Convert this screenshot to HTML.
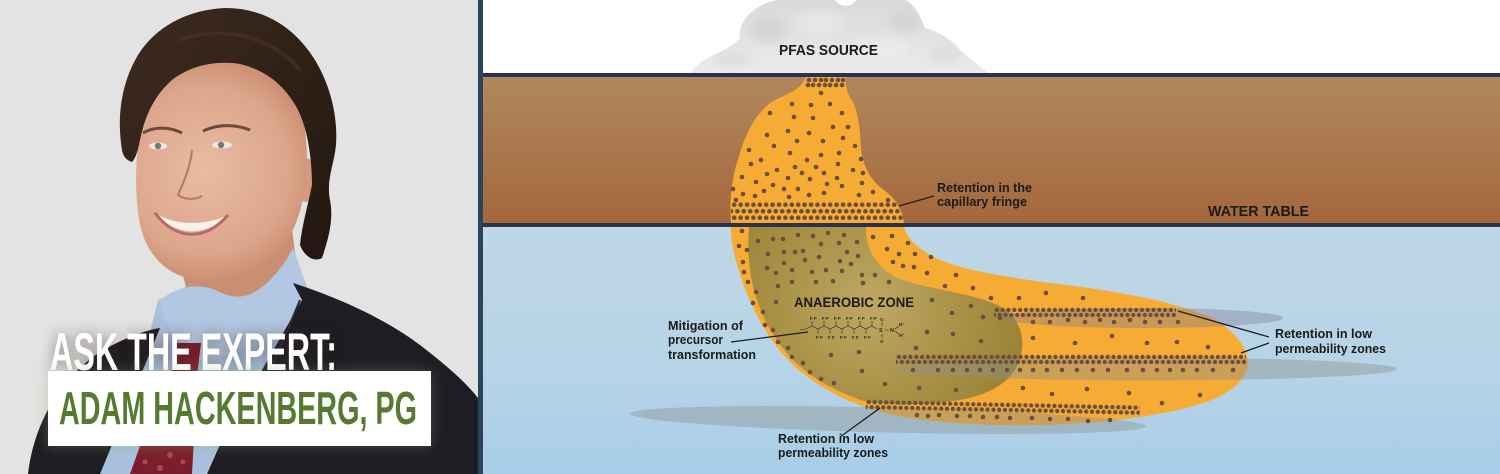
<!DOCTYPE html>
<html>
<head>
<meta charset="utf-8">
<style>
html,body{margin:0;padding:0;background:#e2e2e2;}
body{width:1500px;height:474px;overflow:hidden;}
svg{display:block;}
text{font-family:"Liberation Sans",Arial,sans-serif;font-weight:bold;}
</style>
</head>
<body>
<svg width="1500" height="474" viewBox="0 0 1500 474" xmlns="http://www.w3.org/2000/svg">
<defs>
  <linearGradient id="brown" x1="0" y1="77" x2="0" y2="223" gradientUnits="userSpaceOnUse">
    <stop offset="0" stop-color="#b0875e"/>
    <stop offset="1" stop-color="#a4683b"/>
  </linearGradient>
  <linearGradient id="water" x1="0" y1="227" x2="0" y2="474" gradientUnits="userSpaceOnUse">
    <stop offset="0" stop-color="#bfd7e6"/>
    <stop offset="0.6" stop-color="#b6d3e7"/>
    <stop offset="1" stop-color="#a8cde8"/>
  </linearGradient>
  <radialGradient id="olive" cx="870" cy="305" r="160" gradientUnits="userSpaceOnUse">
    <stop offset="0" stop-color="#bea864"/>
    <stop offset="0.6" stop-color="#a89044"/>
    <stop offset="1" stop-color="#9a8236"/>
  </radialGradient>
  <linearGradient id="blob" x1="0" y1="0" x2="0" y2="73" gradientUnits="userSpaceOnUse">
    <stop offset="0" stop-color="#d9d9d9"/>
    <stop offset="0.5" stop-color="#e2e2e2"/>
    <stop offset="1" stop-color="#ebebeb"/>
  </linearGradient>
  <radialGradient id="skin" cx="205" cy="170" r="120" gradientUnits="userSpaceOnUse">
    <stop offset="0" stop-color="#e9bba3"/>
    <stop offset="0.7" stop-color="#dca58b"/>
    <stop offset="1" stop-color="#c58a6e"/>
  </radialGradient>
  <linearGradient id="hair" x1="0" y1="0" x2="1" y2="1">
    <stop offset="0" stop-color="#3e2b1f"/>
    <stop offset="1" stop-color="#22170f"/>
  </linearGradient>
  <pattern id="pc" patternUnits="userSpaceOnUse" width="6.4" height="13" patternTransform="translate(731,201.5)">
    <circle cx="3.2" cy="3.2" r="2.3" fill="#6a4f3f"/>
    <circle cx="0" cy="9.7" r="2.3" fill="#6a4f3f"/>
    <circle cx="6.4" cy="9.7" r="2.3" fill="#6a4f3f"/>
  </pattern>
  <pattern id="p2" patternUnits="userSpaceOnUse" width="5.8" height="10">
    <circle cx="2.9" cy="2.5" r="2.2" fill="#6a4f3f"/>
    <circle cx="0" cy="7.5" r="2.2" fill="#6a4f3f"/>
    <circle cx="5.8" cy="7.5" r="2.2" fill="#6a4f3f"/>
  </pattern>
  <clipPath id="clipA">
    <path d="M806,77 L846,77 C845,86 847,94 853,102 C859,114 860,132 861,148 C863,166 870,180 884,190 C896,199 902,210 904,223 L731,223 C729,200 732,176 739,156 C746,132 756,114 770,103 C784,94 800,92 806,77 Z"/>
  </clipPath>
  <clipPath id="clipBlob">
    <path d="M690,73 C695,66 705,58 720,52 C728,48 735,44 740,38 C738,28 745,15 757,8 C765,3 772,1 778,0 L835,0 C838,5 845,8 853,4 L856,0 L905,0 C915,5 920,15 925,28 C940,32 952,40 960,50 C970,58 980,66 988,73 Z"/>
  </clipPath>
  <filter id="shadow" x="-20%" y="-40%" width="140%" height="180%">
    <feGaussianBlur stdDeviation="7"/>
  </filter>
  <filter id="soft" x="-20%" y="-20%" width="140%" height="140%">
    <feGaussianBlur stdDeviation="4"/>
  </filter>
</defs>

<!-- ================= LEFT PHOTO PANEL ================= -->
<rect x="0" y="0" width="478" height="474" fill="#e3e3e3"/>

<!-- shirt -->
<path d="M158,300 L195,282 L293,250 L312,300 L232,474 L98,474 L138,380 Z" fill="#a9c1dd"/>
<!-- neck -->
<path d="M178,255 C200,272 245,268 292,228 L300,292 L190,304 Z" fill="#c98f74"/>
<!-- collar -->
<path d="M160,300 C175,288 195,282 215,290 C235,300 250,300 270,280 C282,268 290,255 293,248 C300,265 306,285 310,300 L296,330 C270,345 230,355 200,360 C180,350 166,330 160,300 Z" fill="#b2c8e2"/>
<!-- tie -->
<path d="M176,343 L201,343 L198,368 L192,474 L130,474 L160,390 L173,368 Z" fill="#7b1e2c"/>
<g fill="#c0586a" opacity="0.7">
  <circle cx="150" cy="440" r="3"/><circle cx="170" cy="455" r="3"/><circle cx="160" cy="468" r="3"/><circle cx="178" cy="430" r="3"/><circle cx="145" cy="462" r="2.5"/><circle cx="183" cy="462" r="2.5"/>
</g>
<!-- suit left -->
<path d="M28,474 C33,430 55,382 100,352 C125,337 148,330 160,328 L138,382 L100,474 Z" fill="#1e1d23"/>
<!-- suit right -->
<path d="M293,283 C330,295 380,315 420,345 C450,368 468,385 478,398 L478,474 L207,474 L222,440 L302,300 Z" fill="#1e1d23"/>
<path d="M300,300 L250,420" stroke="#2c2b33" stroke-width="2" fill="none"/>

<!-- ear -->
<ellipse cx="306" cy="180" rx="11" ry="22" fill="#d49a80"/>
<!-- face -->
<path d="M140,130 C145,90 180,62 230,60 C275,60 300,90 305,130 C310,170 305,205 292,232 C275,262 240,282 200,280 C170,278 150,258 142,232 C134,205 135,160 140,130 Z" fill="url(#skin)"/>
<!-- features -->
<path d="M143,133 C155,126 170,127 182,133" stroke="#6b4a3a" stroke-width="3" fill="none"/>
<path d="M203,131 C218,124 235,124 250,130" stroke="#6b4a3a" stroke-width="3" fill="none"/>
<ellipse cx="158" cy="146" rx="9" ry="3.5" fill="#f2e6e0"/>
<ellipse cx="222" cy="145" rx="10" ry="3.5" fill="#f2e6e0"/>
<circle cx="158" cy="146" r="3.2" fill="#6f7d6e"/>
<circle cx="221" cy="145" r="3.2" fill="#6f7d6e"/>
<path d="M192,150 C190,170 182,185 178,195 C185,200 195,200 202,196" stroke="#b57a62" stroke-width="2" fill="none"/>
<path d="M155,213 C175,236 205,238 228,215 C205,226 175,226 155,213 Z" fill="#f6f1ea"/>
<path d="M155,213 C175,240 205,242 228,215" stroke="#b86a62" stroke-width="3" fill="none"/>
<!-- hair -->
<path d="M122,150 C117,120 120,85 138,55 C155,28 185,10 225,8 C265,8 295,28 315,60 C330,85 338,115 336,145 C334,165 326,180 330,200 C334,220 328,240 322,258 C315,262 305,258 300,245 C302,225 308,205 312,185 C312,160 308,130 298,110 C285,85 265,70 240,64 C215,60 190,66 172,80 C155,95 145,115 140,140 C138,150 136,158 132,162 C126,160 123,156 122,150 Z" fill="url(#hair)"/>
<path d="M180,40 C220,25 270,35 300,70" stroke="#4d3526" stroke-width="4" fill="none" opacity="0.6"/>

<!-- Ask the expert text -->
<text x="50" y="370" font-size="53" fill="#3a2420" opacity="0.55" filter="url(#shadow)" textLength="287" lengthAdjust="spacingAndGlyphs">ASK THE EXPERT:</text>
<text x="50" y="370" font-size="53" fill="#ffffff" textLength="287" lengthAdjust="spacingAndGlyphs">ASK THE EXPERT:</text>
<rect x="48" y="371" width="383" height="75" fill="#7fae6a" opacity="0.35" filter="url(#shadow)"/>
<rect x="48" y="371" width="383" height="75" fill="#ffffff"/>
<text x="59" y="424" font-size="46" fill="#567a30" textLength="358" lengthAdjust="spacingAndGlyphs">ADAM HACKENBERG, PG</text>

<!-- separator -->
<rect x="478" y="0" width="5" height="474" fill="#2e4358"/>

<!-- ================= DIAGRAM ================= -->
<rect x="483" y="0" width="1017" height="73" fill="#ffffff"/>
<!-- PFAS source blob -->
<path d="M690,73 C695,66 705,58 720,52 C728,48 735,44 740,38 C738,28 745,15 757,8 C765,3 772,1 778,0 L835,0 C838,5 845,8 853,4 L856,0 L905,0 C915,5 920,15 925,28 C940,32 952,40 960,50 C970,58 980,66 988,73 Z" fill="url(#blob)"/>
<g clip-path="url(#clipBlob)">
  <g filter="url(#soft)" opacity="0.6">
    <ellipse cx="768" cy="30" rx="18" ry="12" fill="#cdcdcd"/>
    <ellipse cx="905" cy="22" rx="16" ry="12" fill="#d0d0d0"/>
    <ellipse cx="820" cy="22" rx="25" ry="12" fill="#ebebeb"/>
    <ellipse cx="880" cy="48" rx="30" ry="12" fill="#eeeeee"/>
    <ellipse cx="945" cy="55" rx="14" ry="8" fill="#d6d6d6"/>
    <ellipse cx="732" cy="60" rx="18" ry="7" fill="#d8d8d8"/>
  </g>
</g>
<text x="779" y="55" font-size="15" fill="#1b1b1b" textLength="99" lengthAdjust="spacingAndGlyphs">PFAS SOURCE</text>

<!-- soil -->
<rect x="483" y="73" width="1017" height="4" fill="#2c3152"/>
<rect x="483" y="77" width="1017" height="146" fill="url(#brown)"/>
<!-- water -->
<rect x="483" y="227" width="1017" height="247" fill="url(#water)"/>

<!-- plume above water table -->
<path d="M806,77 L846,77 C845,86 847,94 853,102 C859,114 860,132 861,148 C863,166 870,180 884,190 C896,199 902,210 904,223 L731,223 C729,200 732,176 739,156 C746,132 756,114 770,103 C784,94 800,92 806,77 Z" fill="#f6ab35"/>
<!-- plume below -->
<path d="M731,227 L904,227 C907,238 918,250 940,260 C965,270 1000,276 1050,283 C1110,290 1170,300 1210,317 C1235,330 1248,348 1248,363 C1247,380 1230,395 1200,404 C1160,416 1110,423 1040,425 C980,426 920,422 880,412 C845,402 815,385 792,364 C768,340 752,310 742,280 C735,260 731,245 731,227 Z" fill="#f6ab35"/>
<!-- anaerobic zone -->
<path d="M749,227 L866,227 C866,248 874,265 895,277 C925,290 975,292 1003,308 C1025,322 1027,350 1015,370 C1002,390 975,399 945,402 C915,405 890,405 867,402 C835,392 805,375 786,352 C766,328 754,300 750,270 C748,255 748,240 749,227 Z" fill="url(#olive)"/>

<!-- low permeability zones -->
<ellipse cx="1143" cy="318" rx="140" ry="10" fill="#7d7890" opacity="0.38"/>
<ellipse cx="1147" cy="369" rx="250" ry="11.5" fill="#8c918c" opacity="0.42"/>
<ellipse cx="888" cy="420" rx="258" ry="12.5" fill="#8c918c" opacity="0.42" transform="rotate(1.4 888 420)"/>

<!-- water table line -->
<rect x="483" y="223" width="1017" height="4" fill="#2c3152"/>

<!-- dense dot bands -->
<rect x="731" y="201.5" width="175" height="19.5" fill="url(#pc)" clip-path="url(#clipA)"/>
<g transform="translate(994,307.5)"><rect x="0" y="0" width="182" height="10" fill="url(#p2)"/></g>
<g transform="translate(896,354.5)"><rect x="0" y="0" width="350" height="10" fill="url(#p2)"/></g>
<g transform="translate(866,399.5) rotate(1.2)"><rect x="0" y="0" width="274" height="10" fill="url(#p2)"/></g>

<!-- scattered dots -->
<g fill="#6a4f3f">
<!-- neck -->
<circle cx="809" cy="80" r="2.3"/><circle cx="815" cy="80" r="2.3"/><circle cx="821" cy="80" r="2.3"/><circle cx="826" cy="80" r="2.3"/><circle cx="832" cy="80" r="2.3"/><circle cx="838" cy="80" r="2.3"/><circle cx="843" cy="80" r="2.3"/>
<circle cx="808" cy="85" r="2.3"/><circle cx="813" cy="85" r="2.3"/><circle cx="819" cy="85" r="2.3"/><circle cx="825" cy="85" r="2.3"/><circle cx="830" cy="85" r="2.3"/><circle cx="836" cy="85" r="2.3"/><circle cx="842" cy="85" r="2.3"/>
<circle cx="821" cy="93" r="2.3"/>
<!-- unsaturated -->
<circle cx="792" cy="104" r="2.3"/><circle cx="811" cy="105" r="2.3"/><circle cx="830" cy="104" r="2.3"/><circle cx="770" cy="113" r="2.3"/><circle cx="794" cy="117" r="2.3"/><circle cx="813" cy="118" r="2.3"/><circle cx="842" cy="113" r="2.3"/>
<circle cx="767" cy="135" r="2.3"/><circle cx="788" cy="131" r="2.3"/><circle cx="809" cy="133" r="2.3"/><circle cx="833" cy="127" r="2.3"/><circle cx="848" cy="127" r="2.3"/><circle cx="843" cy="138" r="2.3"/><circle cx="797" cy="141" r="2.3"/><circle cx="823" cy="141" r="2.3"/>
<circle cx="774" cy="146" r="2.3"/><circle cx="749" cy="150" r="2.3"/><circle cx="790" cy="153" r="2.3"/><circle cx="821" cy="155" r="2.3"/><circle cx="839" cy="153" r="2.3"/><circle cx="855" cy="146" r="2.3"/>
<circle cx="761" cy="160" r="2.3"/><circle cx="807" cy="160" r="2.3"/><circle cx="751" cy="164" r="2.3"/><circle cx="838" cy="164" r="2.3"/><circle cx="861" cy="159" r="2.3"/><circle cx="795" cy="167" r="2.3"/><circle cx="816" cy="167" r="2.3"/>
<circle cx="777" cy="170" r="2.3"/><circle cx="767" cy="174" r="2.3"/><circle cx="802" cy="173" r="2.3"/><circle cx="824" cy="173" r="2.3"/><circle cx="853" cy="170" r="2.3"/><circle cx="863" cy="173" r="2.3"/>
<circle cx="742" cy="177" r="2.3"/><circle cx="788" cy="178" r="2.3"/><circle cx="810" cy="179" r="2.3"/><circle cx="837" cy="178" r="2.3"/><circle cx="756" cy="182" r="2.3"/><circle cx="773" cy="185" r="2.3"/><circle cx="827" cy="184" r="2.3"/><circle cx="862" cy="183" r="2.3"/><circle cx="842" cy="186" r="2.3"/>
<circle cx="733" cy="189" r="2.3"/><circle cx="764" cy="191" r="2.3"/><circle cx="784" cy="189" r="2.3"/><circle cx="798" cy="189" r="2.3"/><circle cx="743" cy="194" r="2.3"/><circle cx="755" cy="196" r="2.3"/><circle cx="789" cy="197" r="2.3"/><circle cx="809" cy="195" r="2.3"/><circle cx="824" cy="193" r="2.3"/><circle cx="859" cy="195" r="2.3"/><circle cx="873" cy="192" r="2.3"/><circle cx="736" cy="200" r="2.3"/><circle cx="888" cy="200" r="2.3"/>
<!-- left band below water table -->
<circle cx="742" cy="231" r="2.3"/><circle cx="739" cy="246" r="2.3"/><circle cx="747" cy="250" r="2.3"/><circle cx="743" cy="262" r="2.3"/><circle cx="744" cy="272" r="2.3"/><circle cx="748" cy="282" r="2.3"/><circle cx="756" cy="292" r="2.3"/><circle cx="753" cy="303" r="2.3"/><circle cx="763" cy="312" r="2.3"/><circle cx="765" cy="325" r="2.3"/><circle cx="773" cy="330" r="2.3"/><circle cx="778" cy="342" r="2.3"/><circle cx="788" cy="348" r="2.3"/><circle cx="792" cy="357" r="2.3"/><circle cx="803" cy="363" r="2.3"/><circle cx="810" cy="372" r="2.3"/><circle cx="821" cy="379" r="2.3"/><circle cx="834" cy="383" r="2.3"/>
<!-- anaerobic zone -->
<circle cx="758" cy="241" r="2.3"/><circle cx="773" cy="239" r="2.3"/><circle cx="783" cy="239" r="2.3"/><circle cx="798" cy="235" r="2.3"/><circle cx="813" cy="236" r="2.3"/><circle cx="828" cy="233" r="2.3"/><circle cx="844" cy="235" r="2.3"/><circle cx="857" cy="242" r="2.3"/><circle cx="821" cy="244" r="2.3"/><circle cx="839" cy="243" r="2.3"/>
<circle cx="768" cy="254" r="2.3"/><circle cx="784" cy="252" r="2.3"/><circle cx="795" cy="252" r="2.3"/><circle cx="803" cy="251" r="2.3"/><circle cx="847" cy="252" r="2.3"/><circle cx="858" cy="256" r="2.3"/><circle cx="784" cy="263" r="2.3"/><circle cx="767" cy="268" r="2.3"/><circle cx="805" cy="260" r="2.3"/><circle cx="819" cy="257" r="2.3"/><circle cx="840" cy="261" r="2.3"/><circle cx="851" cy="264" r="2.3"/>
<circle cx="776" cy="273" r="2.3"/><circle cx="792" cy="270" r="2.3"/><circle cx="812" cy="272" r="2.3"/><circle cx="826" cy="270" r="2.3"/><circle cx="842" cy="271" r="2.3"/><circle cx="862" cy="275" r="2.3"/><circle cx="875" cy="275" r="2.3"/><circle cx="792" cy="282" r="2.3"/><circle cx="816" cy="282" r="2.3"/><circle cx="833" cy="281" r="2.3"/><circle cx="863" cy="283" r="2.3"/><circle cx="889" cy="282" r="2.3"/><circle cx="778" cy="286" r="2.3"/><circle cx="776" cy="302" r="2.3"/>
<circle cx="932" cy="300" r="2.3"/><circle cx="971" cy="306" r="2.3"/><circle cx="952" cy="313" r="2.3"/><circle cx="983" cy="317" r="2.3"/><circle cx="927" cy="332" r="2.3"/><circle cx="953" cy="334" r="2.3"/><circle cx="981" cy="341" r="2.3"/><circle cx="916" cy="348" r="2.3"/><circle cx="831" cy="355" r="2.3"/><circle cx="859" cy="352" r="2.3"/><circle cx="862" cy="371" r="2.3"/><circle cx="885" cy="384" r="2.3"/><circle cx="919" cy="388" r="2.3"/><circle cx="956" cy="390" r="2.3"/><circle cx="1000" cy="318" r="2.3"/>
<!-- right wing upper -->
<circle cx="873" cy="237" r="2.3"/><circle cx="892" cy="236" r="2.3"/><circle cx="887" cy="249" r="2.3"/><circle cx="899" cy="254" r="2.3"/><circle cx="908" cy="243" r="2.3"/><circle cx="915" cy="254" r="2.3"/><circle cx="893" cy="262" r="2.3"/><circle cx="903" cy="266" r="2.3"/><circle cx="914" cy="267" r="2.3"/><circle cx="927" cy="273" r="2.3"/><circle cx="931" cy="257" r="2.3"/><circle cx="956" cy="275" r="2.3"/><circle cx="945" cy="286" r="2.3"/><circle cx="973" cy="288" r="2.3"/><circle cx="991" cy="298" r="2.3"/><circle cx="1019" cy="298" r="2.3"/><circle cx="1046" cy="293" r="2.3"/><circle cx="1083" cy="298" r="2.3"/>
<!-- row1 sparse -->
<circle cx="1033" cy="322" r="2.3"/><circle cx="1050" cy="322" r="2.3"/><circle cx="1068" cy="320" r="2.3"/><circle cx="1085" cy="322" r="2.3"/><circle cx="1100" cy="320" r="2.3"/><circle cx="1114" cy="322" r="2.3"/><circle cx="1130" cy="320" r="2.3"/><circle cx="1145" cy="322" r="2.3"/><circle cx="1160" cy="322" r="2.3"/><circle cx="1178" cy="322" r="2.3"/>
<!-- middle wing -->
<circle cx="1033" cy="338" r="2.3"/><circle cx="1075" cy="343" r="2.3"/><circle cx="1112" cy="336" r="2.3"/><circle cx="1147" cy="343" r="2.3"/><circle cx="1177" cy="342" r="2.3"/><circle cx="1208" cy="347" r="2.3"/>
<!-- row2 sparse -->
<circle cx="913" cy="370" r="2.3"/><circle cx="938" cy="370" r="2.3"/><circle cx="953" cy="370" r="2.3"/><circle cx="967" cy="370" r="2.3"/><circle cx="980" cy="370" r="2.3"/><circle cx="993" cy="370" r="2.3"/><circle cx="1007" cy="370" r="2.3"/><circle cx="1020" cy="370" r="2.3"/><circle cx="1033" cy="370" r="2.3"/><circle cx="1047" cy="370" r="2.3"/><circle cx="1062" cy="370" r="2.3"/><circle cx="1077" cy="370" r="2.3"/><circle cx="1093" cy="370" r="2.3"/><circle cx="1108" cy="370" r="2.3"/><circle cx="1127" cy="370" r="2.3"/><circle cx="1143" cy="370" r="2.3"/><circle cx="1157" cy="370" r="2.3"/><circle cx="1170" cy="370" r="2.3"/><circle cx="1183" cy="370" r="2.3"/><circle cx="1197" cy="370" r="2.3"/><circle cx="1213" cy="370" r="2.3"/><circle cx="1233" cy="370" r="2.3"/>
<!-- lower wing -->
<circle cx="1023" cy="388" r="2.3"/><circle cx="1052" cy="394" r="2.3"/><circle cx="1087" cy="389" r="2.3"/><circle cx="1129" cy="393" r="2.3"/><circle cx="1162" cy="403" r="2.3"/><circle cx="1200" cy="395" r="2.3"/>
<!-- row3 sparse -->
<circle cx="917" cy="415" r="2.3"/><circle cx="928" cy="416" r="2.3"/><circle cx="939" cy="415" r="2.3"/><circle cx="957" cy="416" r="2.3"/><circle cx="970" cy="416" r="2.3"/><circle cx="983" cy="417" r="2.3"/><circle cx="997" cy="417" r="2.3"/><circle cx="1010" cy="418" r="2.3"/><circle cx="1032" cy="418" r="2.3"/><circle cx="1050" cy="419" r="2.3"/><circle cx="1068" cy="419" r="2.3"/><circle cx="1088" cy="421" r="2.3"/><circle cx="1110" cy="420" r="2.3"/>
</g>

<!-- chemical structure -->
<g stroke="#2a2a2a" stroke-width="0.6" fill="none">
  <polyline points="806,329 812,326 818,329 824,326 830,329 836,326 842,329 848,326 854,329 860,326 866,329 872,326 877,329"/>
  <path d="M812,326 V321 M824,326 V321 M836,326 V321 M848,326 V321 M860,326 V321 M872,326 V321 M818,329 V334 M830,329 V334 M842,329 V334 M854,329 V334 M866,329 V334 M800,330 L806,329"/>
  <path d="M882,326 V322 M882,334 V338 M885,330 L889,330 M895,329 L899,326 M895,331 L899,334"/>
</g>
<g font-size="4.5" fill="#2a2a2a">
  <text x="810" y="320">F F</text><text x="822" y="320">F F</text><text x="834" y="320">F F</text><text x="846" y="320">F F</text><text x="858" y="320">F F</text><text x="870" y="320">F F</text>
  <text x="816" y="339">F F</text><text x="828" y="339">F F</text><text x="840" y="339">F F</text><text x="852" y="339">F F</text><text x="864" y="339">F F</text>
  <text x="879" y="332" font-size="5.5">S</text><text x="880" y="321">O</text><text x="880" y="343">O</text>
  <text x="890" y="332" font-size="5.5">N</text><text x="899" y="326">R¹</text><text x="899" y="337">R²</text>
</g>

<!-- leader lines -->
<g stroke="#1e1e1e" stroke-width="1.3" fill="none">
  <line x1="899" y1="206" x2="934" y2="196"/>
  <line x1="731" y1="342" x2="808" y2="332"/>
  <line x1="880" y1="408" x2="840" y2="437"/>
  <line x1="1178" y1="311" x2="1269" y2="337"/>
  <line x1="1241" y1="353" x2="1269" y2="343"/>
</g>

<!-- labels -->
<g fill="#1b1b1b">
  <text x="937" y="192" font-size="12.5" textLength="95" lengthAdjust="spacingAndGlyphs">Retention in the</text>
  <text x="937" y="206" font-size="12.5" textLength="90" lengthAdjust="spacingAndGlyphs">capillary fringe</text>
  <text x="1208" y="216" font-size="14.5" textLength="101" lengthAdjust="spacingAndGlyphs">WATER TABLE</text>
  <text x="794" y="307" font-size="13.5" textLength="120" lengthAdjust="spacingAndGlyphs">ANAEROBIC ZONE</text>
  <text x="668" y="330" font-size="12.5" textLength="75" lengthAdjust="spacingAndGlyphs">Mitigation of</text>
  <text x="668" y="344" font-size="12.5" textLength="55" lengthAdjust="spacingAndGlyphs">precursor</text>
  <text x="668" y="359" font-size="12.5" textLength="88" lengthAdjust="spacingAndGlyphs">transformation</text>
  <text x="1275" y="338" font-size="12.5" textLength="97" lengthAdjust="spacingAndGlyphs">Retention in low</text>
  <text x="1275" y="353" font-size="12.5" textLength="111" lengthAdjust="spacingAndGlyphs">permeability zones</text>
  <text x="778" y="443" font-size="12.5" textLength="96" lengthAdjust="spacingAndGlyphs">Retention in low</text>
  <text x="778" y="457" font-size="12.5" textLength="110" lengthAdjust="spacingAndGlyphs">permeability zones</text>
</g>
</svg>
</body>
</html>
